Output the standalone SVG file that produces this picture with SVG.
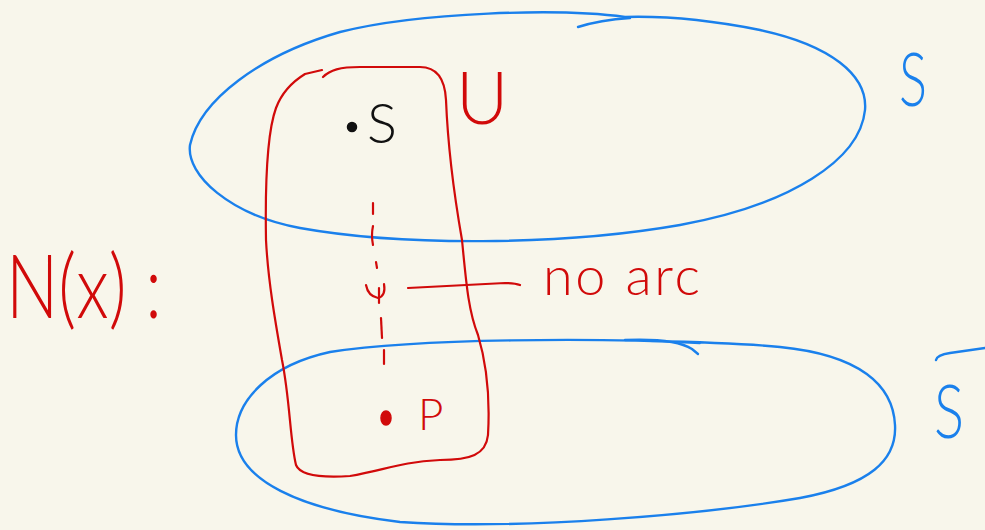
<svg xmlns="http://www.w3.org/2000/svg" width="985" height="530" viewBox="0 0 985 530">
  <style>
    .blue { fill: none; stroke: #1a80ec; stroke-width: 2.4; stroke-linecap: round; stroke-linejoin: round; }
    .red { fill: none; stroke: #d10a0a; stroke-width: 2.2; stroke-linecap: round; stroke-linejoin: round; }
    .hand { font-family: Lato, "Liberation Sans", sans-serif; font-weight: 300; }
    .tr { fill: #d10a0a; }
    .tb { fill: #1a80ec; }
    .tk { fill: #111111; }
  </style>
  <rect x="0" y="0" width="985" height="530" fill="#f8f6eb"/>

  <!-- set S (top loop) -->
  <g id="set-S">
    <path class="blue" d="M 625 17 C 560 8, 420 12, 340 32 C 260 55, 200 100, 190 145 C 186 175, 230 215, 300 228 C 400 246, 560 246, 680 225 C 790 205, 860 160, 865 110 C 868 75, 830 45, 760 30 C 700 18, 660 16, 625 17"/>
    <path class="blue" d="M 578 27 Q 600 20 630 18"/>
    <text class="hand tb" x="899" y="106" font-size="74" textLength="28" lengthAdjust="spacingAndGlyphs">S</text>
  </g>

  <!-- complement of S (bottom loop) -->
  <g id="set-Sbar">
    <path class="blue" d="M 700 343 C 600 338, 420 338, 330 352 C 270 365, 236 400, 236 435 C 236 480, 300 510, 400 522 C 520 530, 700 515, 800 498 C 870 485, 897 460, 895 425 C 893 385, 860 355, 780 347 C 740 343, 700 342, 650 341"/>
    <path class="blue" d="M 625 340 Q 675 338 692 349 L 698 354"/>
    <path class="blue" d="M 936 360 Q 937 355 950 353 L 985 348"/>
    <text class="hand tb" x="934" y="438" font-size="74" textLength="30" lengthAdjust="spacingAndGlyphs">S</text>
  </g>

  <!-- region U -->
  <g id="region-U">
    <path class="red" d="M 323 77 C 330 70, 340 67, 360 67 L 420 67 C 438 67, 445 80, 446 100 C 448 150, 455 200, 462 240 C 466 280, 468 310, 478 335 C 487 365, 490 400, 488 435 C 486 455, 470 460, 440 460 C 400 462, 385 470, 350 476 C 320 478, 300 475, 296 465 C 290 440, 290 400, 282 360 C 275 320, 268 280, 266 240 C 265 180, 268 130, 276 108 C 282 92, 292 82, 305 74 L 322 70"/>
    <text class="hand tr" x="456" y="124" font-size="72">U</text>
  </g>

  <!-- vertex s -->
  <g id="node-s">
    <circle cx="352" cy="127" r="4.5" fill="#111111" stroke="#111111" stroke-width="1.5"/>
    <text class="hand tk" x="367" y="143" font-size="56">S</text>
  </g>

  <!-- vertex p -->
  <g id="node-p">
    <ellipse cx="386" cy="418" rx="5" ry="7" fill="#d10a0a" stroke="#d10a0a" stroke-width="1.5"/>
    <text class="hand tr" x="418" y="430" font-size="44">P</text>
  </g>

  <!-- N(x) label -->
  <g id="label-N">
    <text class="hand tr" x="6" y="318" font-size="88" textLength="156" lengthAdjust="spacingAndGlyphs">N(x) :</text>
  </g>

  <!-- connectors: missing path from s to p and its note -->
  <g id="connectors">
    <path class="red" d="M 373 203 L 373 214"/>
    <path class="red" d="M 373 226 Q 371 235 373 245"/>
    <path class="red" d="M 376 262 L 377 268"/>
    <path class="red" d="M 366 285 Q 368 296 378 298 Q 386 296 384 284"/>
    <path class="red" d="M 379 288 L 379 303"/>
    <path class="red" d="M 381 318 L 382 338"/>
    <path class="red" d="M 384 350 L 384 364"/>
    <path class="red" d="M 408 288 L 505 283 Q 515 283 520 285"/>
    <text class="hand tr" x="543" y="295" font-size="54" textLength="157">no arc</text>
  </g>
</svg>
